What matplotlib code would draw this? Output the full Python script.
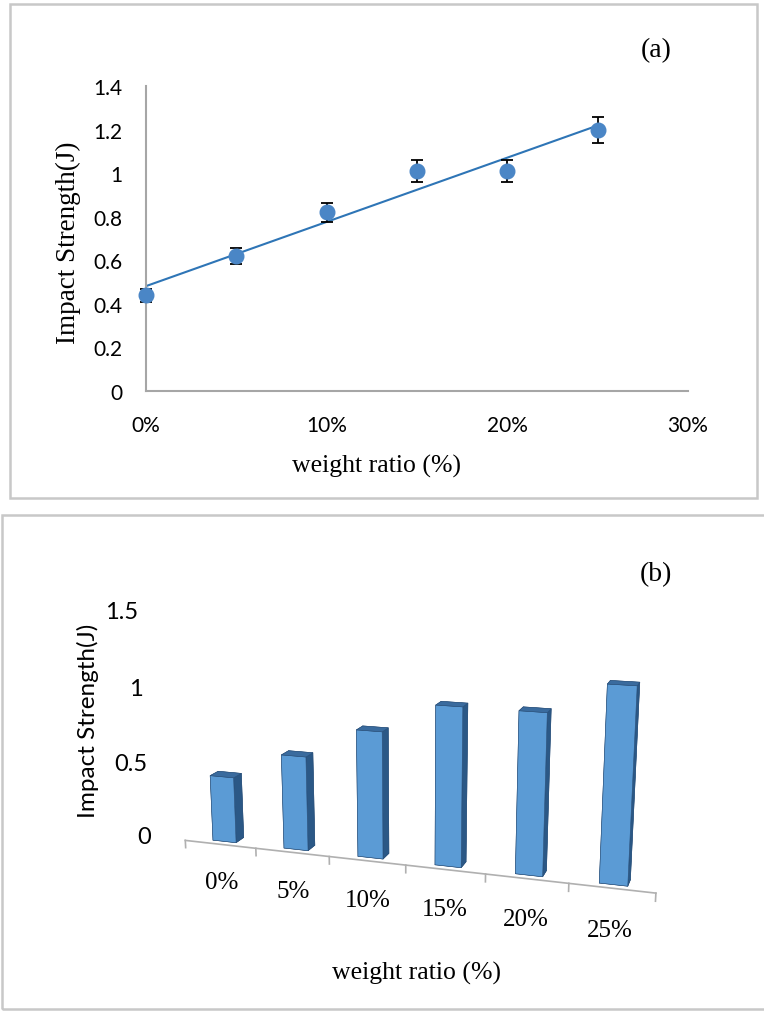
import numpy as np
import matplotlib.pyplot as plt
from matplotlib.patches import Rectangle
from matplotlib.ticker import PercentFormatter

# data
ratio = [0, 5, 10, 15, 20, 25]                     # weight ratio (%)
ratio_labels = ['0%', '5%', '10%', '15%', '20%', '25%']
impact = [0.44, 0.62, 0.82, 1.01, 1.01, 1.20]      # impact strength (J)
impact_err = [0.03, 0.035, 0.045, 0.05, 0.05, 0.06]
b_ticks = [0, 0.5, 1, 1.5]
b_tick_labels = ['0', '0.5', '1', '1.5']

W, H = 764, 1012
SERIF = 'Liberation Serif'
SANS = 'Lato'


def fx(px):
    return px / W


def fy(py):
    return 1 - py / H


fig = plt.figure(figsize=(W / 100, H / 100), dpi=100)

# panel frames
frame_kw = dict(transform=fig.transFigure, fill=False, ec='#c8c8c8', lw=1.8)
fig.patches.append(Rectangle((fx(10), fy(499)), fx(757) - fx(10), fy(5) - fy(499), **frame_kw))
fig.patches.append(Rectangle((fx(2), fy(1010)), fx(820) - fx(2), fy(516) - fy(1010), **frame_kw))

# ---------------- (a) scatter with error bars + linear trend ----------------
ax = fig.add_axes([fx(146), fy(392), fx(688) - fx(146), fy(87) - fy(392)])
x = np.array(ratio) / 100.0
ax.errorbar(x, impact, yerr=impact_err, fmt='none', ecolor='black',
            elinewidth=1.3, capsize=4.5, capthick=1.3, zorder=3, clip_on=False)
coef = np.polyfit(x, impact, 1)
xs = np.array([x[0], x[-1]])
ax.plot(xs, np.polyval(coef, xs), color='#2e75b6', lw=1.5, zorder=2)
ax.plot(x, impact, 'o', color='#4a86c6', ms=10.5, zorder=4, clip_on=False)

ax.set_xlim(0, 0.30)
ax.set_ylim(0, 1.4)
ax.set_xticks([0, 0.1, 0.2, 0.3])
ax.set_yticks(np.arange(0, 1.41, 0.2))
ax.xaxis.set_major_formatter(PercentFormatter(1.0, decimals=0))
ax.set_yticklabels(['0', '0.2', '0.4', '0.6', '0.8', '1', '1.2', '1.4'])
ax.tick_params(length=0, labelsize=15, pad=17)
for lab in ax.get_xticklabels() + ax.get_yticklabels():
    lab.set_fontfamily(SANS)
for side in ['top', 'right']:
    ax.spines[side].set_visible(False)
for side in ['left', 'bottom']:
    ax.spines[side].set_color('#a6a6a6')
    ax.spines[side].set_linewidth(1.5)

fig.text(fx(377), fy(466), 'weight ratio (%)', ha='center', va='center',
         fontsize=18.5, fontfamily=SERIF)
fig.text(fx(68), fy(243), 'Impact Strength(J)', ha='center', va='center',
         rotation=90, fontsize=19.5, fontfamily=SERIF)
fig.text(fx(656), fy(51), '(a)', ha='center', va='center', fontsize=20, fontfamily=SERIF)

# ---------------- (b) 3-D column chart ----------------
# Axes3D is forced square, so give it a square box and scale with zoom
S = 620
ax3 = fig.add_axes([fx(405 - S / 2), fy(751 + S / 2), S / W, S / H], projection='3d')
ax3.patch.set_alpha(0)
pos = np.arange(len(ratio))
bw, bd = 0.33, 0.22
face_cols = ['#2f5d8a', '#3a6b9e', '#5b9bd5', '#5b9bd5', '#5b9bd5', '#2b5886']
ax3.bar3d(pos - bw / 2, np.full(len(pos), 0.12), np.zeros(len(pos)), bw, bd, impact,
          color=face_cols * len(pos), shade=False, edgecolor='#2a4f78', linewidth=0.4)

# floor line with category separators
ax3.plot([-0.5, len(pos) - 0.5], [0, 0], [0, 0], color='#b0b0b0', lw=1.2)
for b in np.arange(-0.5, len(pos), 1.0):
    ax3.plot([b, b], [0, 0], [0, -0.05], color='#b0b0b0', lw=1.2)
for p, lab in zip(pos, ratio_labels):
    ax3.text(p, 0, -0.26, lab, ha='center', va='center', fontsize=18, fontfamily=SERIF)
for v, lab in zip(b_ticks, b_tick_labels):
    ax3.text(-1.0, 0, v, lab, ha='right', va='center', fontsize=17, fontfamily=SANS)

ax3.set_xlim(-0.5, len(pos) - 0.5)
ax3.set_ylim(0, 0.6)
ax3.set_zlim(0, 1.5)
ax3.set_xticks([])
ax3.set_yticks([])
ax3.set_zticks([])
ax3.set_box_aspect((6, 0.6, 2.95), zoom=0.87)
ax3.set_proj_type('persp', focal_length=0.35)
ax3.view_init(elev=14, azim=-72)
ax3.set_axis_off()

fig.text(fx(88), fy(721), 'Impact Strength(J)', ha='center', va='center',
         rotation=90, fontsize=17.5, fontfamily=SANS)
fig.text(fx(416), fy(973), 'weight ratio (%)', ha='center', va='center',
         fontsize=18.5, fontfamily=SERIF)
fig.text(fx(656), fy(575), '(b)', ha='center', va='center', fontsize=20, fontfamily=SERIF)

fig.savefig('out.png', dpi=100)
